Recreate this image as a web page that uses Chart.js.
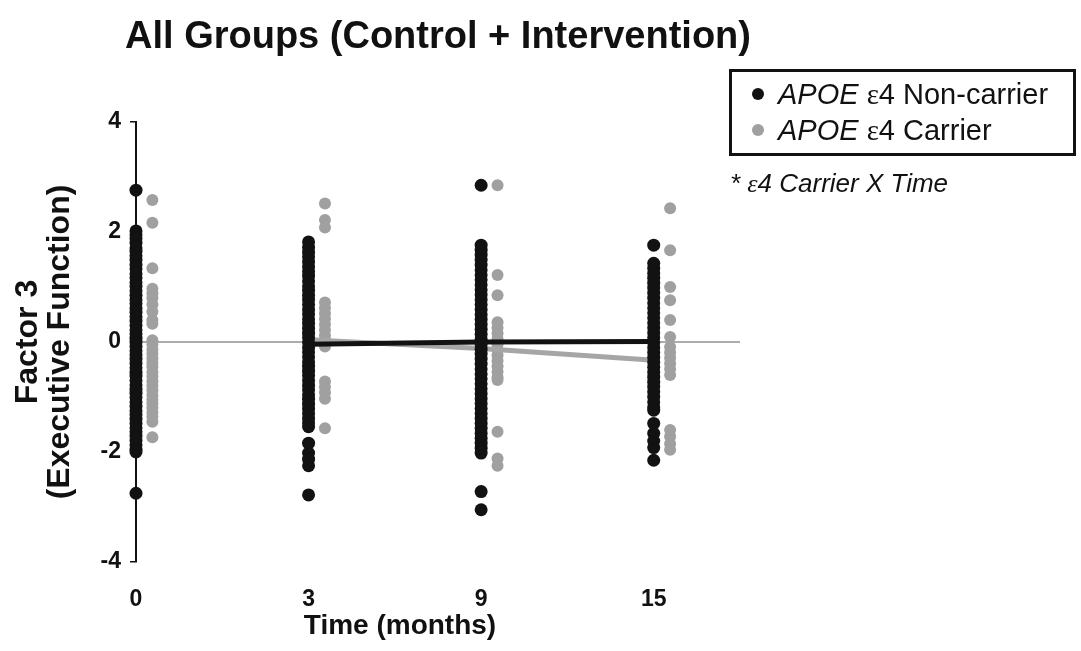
<!DOCTYPE html>
<html>
<head>
<meta charset="utf-8">
<script src="https://cdn.jsdelivr.net/npm/chart.js@4/dist/chart.umd.min.js"></script>
<style>
  html, body { margin: 0; padding: 0; background: #ffffff; }
  #wrap { position: relative; width: 1081px; height: 651px; overflow: hidden; font-family: "Liberation Sans", Arial, sans-serif; color: #111; }
  #c { position: absolute; left: 0; top: 0; }
  .title { position: absolute; left: 0; width: 876px; top: 13px; text-align: center; font-weight: bold; font-size: 38px; line-height: 44px; white-space: nowrap; }
  .xtitle { position: absolute; left: 200px; width: 400px; top: 608px; text-align: center; font-weight: bold; font-size: 28px; line-height: 34px; white-space: nowrap; }
  .legend { position: absolute; left: 729px; top: 69px; width: 347px; height: 87px; box-sizing: border-box; border: 3px solid #111; }
  .row { position: absolute; left: 0; height: 34px; line-height: 34px; font-size: 29px; white-space: nowrap; }
  .dot { position: absolute; width: 12px; height: 12px; border-radius: 50%; top: 11px; left: 20px; }
  .lbl { position: absolute; left: 46px; top: 0; }
  .eps { font-family: "Liberation Serif", "DejaVu Serif", serif; }
  .note { position: absolute; left: 730px; top: 168px; font-size: 26px; line-height: 30px; font-style: italic; white-space: nowrap; }
</style>
</head>
<body>
<div id="wrap">
  <canvas id="c" width="1081" height="651"></canvas>
  <div class="title">All Groups (Control + Intervention)</div>
  <div class="xtitle">Time (months)</div>
  <div class="legend">
    <div class="row" style="top:5px"><span class="dot" id="dot0"></span><span class="lbl"><i>APOE</i> <span class="eps">ε</span>4 Non-carrier</span></div>
    <div class="row" style="top:41px"><span class="dot" id="dot1"></span><span class="lbl"><i>APOE</i> <span class="eps">ε</span>4 Carrier</span></div>
  </div>
  <div class="note">* <span class="eps">ε</span>4 Carrier X Time</div>
</div>
<script>
// ---- Data ----
const timeLabels = ['0', '3', '9', '15'];
const yTickValues = [-4, -2, 0, 2, 4];

const nonCarrierT0 = [2.76, 2.02, 1.95, 1.88, 1.80, 1.71, 1.65, 1.57, 1.49, 1.40, 1.33, 1.24, 1.17, 1.08, 1.01, 0.93, 0.85, 0.77, 0.70, 0.61, 0.54, 0.46, 0.38, 0.30, 0.22, 0.15, 0.07, 0.00, -0.08, -0.16, -0.23, -0.31, -0.39, -0.47, -0.55, -0.62, -0.70, -0.78, -0.86, -0.93, -1.01, -1.09, -1.17, -1.25, -1.32, -1.40, -1.48, -1.56, -1.63, -1.71, -1.79, -1.87, -1.95, -2.00, -2.75];
const nonCarrierT3 = [1.82, 1.72, 1.63, 1.55, 1.46, 1.37, 1.28, 1.20, 1.11, 1.02, 0.94, 0.85, 0.77, 0.68, 0.59, 0.51, 0.42, 0.34, 0.25, 0.16, 0.08, -0.01, -0.10, -0.18, -0.27, -0.36, -0.44, -0.53, -0.61, -0.70, -0.79, -0.87, -0.96, -1.04, -1.13, -1.22, -1.30, -1.39, -1.47, -1.54, -1.84, -2.02, -2.13, -2.25, -2.78];
const nonCarrierT9 = [2.85, 1.76, 1.67, 1.58, 1.49, 1.40, 1.31, 1.22, 1.13, 1.04, 0.95, 0.86, 0.77, 0.68, 0.59, 0.50, 0.41, 0.32, 0.23, 0.14, 0.05, -0.04, -0.13, -0.22, -0.31, -0.40, -0.49, -0.58, -0.67, -0.76, -0.85, -0.94, -1.03, -1.12, -1.21, -1.30, -1.39, -1.48, -1.57, -1.66, -1.75, -1.84, -1.93, -2.02, -2.72, -3.05];
const nonCarrierT15 = [1.76, 1.43, 1.34, 1.25, 1.16, 1.07, 0.98, 0.89, 0.80, 0.71, 0.62, 0.53, 0.44, 0.35, 0.26, 0.17, 0.08, -0.01, -0.10, -0.19, -0.28, -0.37, -0.46, -0.55, -0.64, -0.73, -0.82, -0.91, -1.00, -1.09, -1.18, -1.24, -1.48, -1.66, -1.80, -1.92, -2.15];

const carrierT0 = [2.58, 2.17, 1.34, 0.97, 0.88, 0.80, 0.68, 0.55, 0.40, 0.33, 0.03, -0.05, -0.14, -0.22, -0.30, -0.38, -0.45, -0.55, -0.63, -0.72, -0.80, -0.88, -0.97, -1.05, -1.12, -1.20, -1.28, -1.36, -1.45, -1.73];
const carrierT3 = [2.52, 2.22, 2.08, 0.72, 0.62, 0.52, 0.42, 0.32, 0.22, 0.12, 0.03, -0.08, -0.72, -0.82, -0.92, -1.03, -1.57];
const carrierT9 = [2.85, 1.22, 0.85, 0.36, 0.26, 0.16, 0.06, -0.04, -0.14, -0.24, -0.34, -0.44, -0.54, -0.64, -0.69, -1.63, -2.12, -2.25];
const carrierT15 = [2.43, 1.67, 1.00, 0.76, 0.40, 0.09, -0.09, -0.19, -0.29, -0.39, -0.49, -0.60, -1.60, -1.72, -1.85, -1.96];

// Trend lines (months 3, 9, 15)
const trendTimes = ['3', '9', '15'];
const nonCarrierTrend = [-0.04, 0.00, 0.01];
const carrierTrend = [0.04, -0.12, -0.33];

const referenceLevel = 0;

// ---- Styling constants ----
const BLACK = '#121212';
const GREY = '#a0a0a0';
const GREY_LINE = '#a6a6a6';
const CARRIER_OFFSET = 0.095; // carrier column drawn just right of non-carrier column
const X_MAX = 3.5;

document.getElementById('dot0').style.background = BLACK;
document.getElementById('dot1').style.background = GREY;

const nonCarrierByTime = [nonCarrierT0, nonCarrierT3, nonCarrierT9, nonCarrierT15];
const carrierByTime = [carrierT0, carrierT3, carrierT9, carrierT15];

const toPoints = (groups, offset) => groups.flatMap((vals, i) => vals.map(v => ({ x: i + offset, y: v })));
const trendPoints = (vals) => trendTimes.map((t, k) => ({ x: timeLabels.indexOf(t), y: vals[k] }));

const FONT = '"Liberation Sans", Arial, sans-serif';

new Chart(document.getElementById('c'), {
  type: 'scatter',
  data: {
    datasets: [
      { label: 'APOE ε4 Non-carrier', data: toPoints(nonCarrierByTime, 0), backgroundColor: BLACK, borderWidth: 0, pointRadius: 6.5, order: 0, clip: false },
      { type: 'line', label: 'Non-carrier trend', data: trendPoints(nonCarrierTrend), borderColor: BLACK, borderWidth: 5, pointRadius: 0, fill: false, order: 1, clip: false },
      { type: 'line', label: 'Carrier trend', data: trendPoints(carrierTrend), borderColor: GREY_LINE, borderWidth: 5, pointRadius: 0, fill: false, order: 2, clip: false },
      { label: 'APOE ε4 Carrier', data: toPoints(carrierByTime, CARRIER_OFFSET), backgroundColor: GREY, borderWidth: 0, pointRadius: 6, order: 3, clip: false },
      { type: 'line', label: 'Zero', data: [{ x: 0, y: referenceLevel }, { x: X_MAX, y: referenceLevel }], borderColor: '#5a5a5a', borderWidth: 1.2, pointRadius: 0, fill: false, order: 4, clip: false }
    ]
  },
  options: {
    responsive: false,
    animation: false,
    events: [],
    layout: { padding: { top: 122, right: 341, bottom: 0, left: 0 } },
    plugins: { legend: { display: false }, title: { display: false }, tooltip: { enabled: false } },
    scales: {
      x: {
        type: 'linear',
        min: 0,
        max: X_MAX,
        afterFit: (s) => { s.height = 89; },
        afterBuildTicks: (s) => { s.ticks = timeLabels.map((_, i) => ({ value: i })); },
        ticks: { autoSkip: false, maxRotation: 0, padding: 24, color: '#111', font: { family: FONT, size: 23, weight: 'bold' }, callback: (v) => timeLabels[v] },
        grid: { display: false, drawTicks: false },
        border: { display: false }
      },
      y: {
        min: -4,
        max: 4,
        afterFit: (s) => { s.width = 136; },
        afterBuildTicks: (s) => { s.ticks = yTickValues.map(v => ({ value: v })); },
        ticks: { padding: 9, color: '#111', font: { family: FONT, size: 23, weight: 'bold' }, callback: (v) => String(v) },
        grid: { display: true, drawOnChartArea: false, drawTicks: true, tickLength: 6, color: '#111', lineWidth: 1.5 },
        border: { display: true, color: '#111', width: 2 },
        title: { display: true, text: ['Factor 3', '(Executive Function)'], color: '#111', padding: { top: 12, bottom: 0 }, font: { family: FONT, size: 32, weight: 'bold', lineHeight: 1.0 } }
      }
    }
  }
});
</script>
</body>
</html>
